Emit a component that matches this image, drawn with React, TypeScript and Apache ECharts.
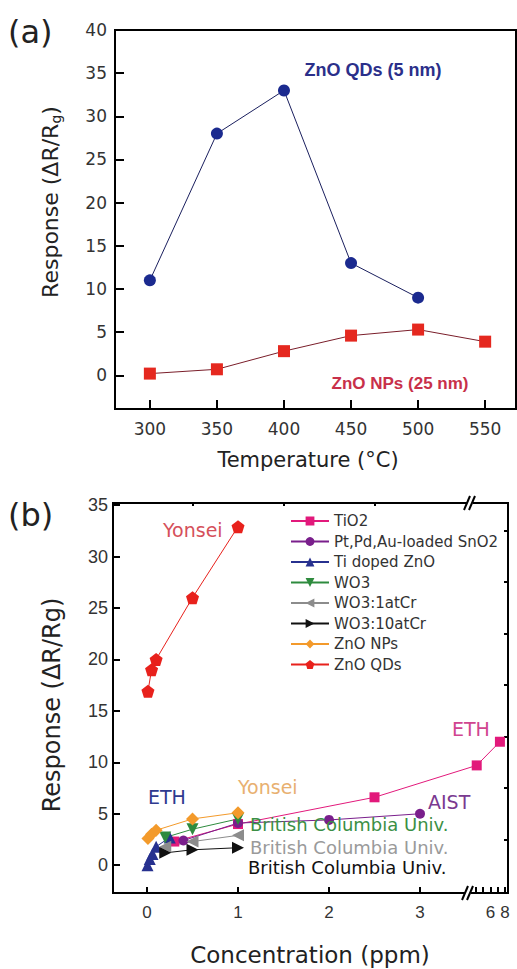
import React, { useEffect, useRef } from "react";
import * as echarts from "echarts";

// ---------- Panel (a) data ----------
const temperatures = [300, 350, 400, 450, 500, 550];
const qdTempResponse = [11, 28, 33, 13, 9];
const npTempResponse = [0.2, 0.7, 2.8, 4.6, 5.3, 3.9];
const aYTicks = [0, 5, 10, 15, 20, 25, 30, 35, 40];

// ---------- Panel (b) data ----------
const tio2Conc = [0.3, 1, 2.5, 4.1, 7.3];
const tio2Resp = [2.3, 4.0, 6.6, 9.7, 12.0];
const snO2Conc = [0.4, 1, 2, 3];
const snO2Resp = [2.4, 4.1, 4.4, 5.0];
const tiZnOConc = [0.005, 0.03, 0.06, 0.1, 0.25];
const tiZnOResp = [0, 0.6, 1.1, 1.8, 2.7];
const wo3Conc = [0.2, 0.5, 1];
const wo3Resp = [2.7, 3.5, 4.5];
const wo3Cr1Conc = [0.2, 0.5, 1];
const wo3Cr1Resp = [1.8, 2.3, 2.9];
const wo3Cr10Conc = [0.2, 0.5, 1];
const wo3Cr10Resp = [1.2, 1.5, 1.7];
const znoNPConc = [0.01, 0.05, 0.1, 0.5, 1];
const znoNPResp = [2.6, 3.0, 3.4, 4.5, 5.1];
const znoQDConc = [0.01, 0.05, 0.1, 0.5, 1];
const znoQDResp = [16.9, 19.0, 20.0, 26.0, 32.9];

const bXMajor = [0, 1, 2, 3];
const bXMinor = [0.5, 1.5, 2.5];
const bXBreakTicks = [4, 5, 6, 7, 8];
const bXBreakLabels = [6, 8];
const bYMajor = [0, 5, 10, 15, 20, 25, 30, 35];
const bYMinor = [2.5, 7.5, 12.5, 17.5, 22.5, 27.5, 32.5];

// broken axis mapping
const BREAK_END = 3.934;
const SEG = 0.0797;
const toPos = (v: number) => (v <= 3.5 ? v : BREAK_END - (8 - v) * SEG);
const fromPos = (p: number) => (p <= 3.55 ? p : 8 - (BREAK_END - p) / SEG);

const pentagon =
  "path://M0,-1 L0.951,-0.309 L0.588,0.809 L-0.588,0.809 L-0.951,-0.309 Z";

const FONT = "DejaVu Sans";
const SANS = "Liberation Sans";

export default function App() {
  const ref = useRef<HTMLDivElement>(null);
  useEffect(() => {
    if (!ref.current) return;
    const chart = echarts.init(ref.current, undefined, { renderer: "svg" });

    const mk = (xs: number[], ys: number[]) => xs.map((x, i) => [toPos(x), ys[i]]);

    const bSeries = [
      { name: "TiO2", xs: tio2Conc, ys: tio2Resp, color: "#e2197b", symbol: "rect", size: 10, rot: 0 },
      { name: "Pt,Pd,Au-loaded SnO2", xs: snO2Conc, ys: snO2Resp, color: "#7a1f8c", symbol: "circle", size: 10, rot: 0 },
      { name: "Ti doped ZnO", xs: tiZnOConc, ys: tiZnOResp, color: "#27318f", symbol: "triangle", size: 12, rot: 0 },
      { name: "WO3", xs: wo3Conc, ys: wo3Resp, color: "#2e8b3e", symbol: "triangle", size: 12, rot: 180 },
      { name: "WO3:1atCr", xs: wo3Cr1Conc, ys: wo3Cr1Resp, color: "#8c8c8c", symbol: "triangle", size: 12, rot: 90 },
      { name: "WO3:10atCr", xs: wo3Cr10Conc, ys: wo3Cr10Resp, color: "#111111", symbol: "triangle", size: 12, rot: -90 },
      { name: "ZnO NPs", xs: znoNPConc, ys: znoNPResp, color: "#f39a2b", symbol: "diamond", size: 13, rot: 0 },
      { name: "ZnO QDs", xs: znoQDConc, ys: znoQDResp, color: "#e8211c", symbol: pentagon, size: 13, rot: 0 },
    ];

    const txt = (
      text: string,
      x: number,
      y: number,
      fill: string,
      fontSize: number,
      extra: any = {}
    ) => ({
      type: "text",
      x,
      y,
      z: 100,
      style: {
        text,
        fill,
        fontSize,
        fontFamily: FONT,
        align: "left",
        verticalAlign: "middle",
        ...extra,
      },
    });

    const breakMark = (cx: number, cy: number) => [
      { type: "rect", z: 99, shape: { x: cx - 3, y: cy - 3, width: 6, height: 6 }, style: { fill: "#fff" } },
      { type: "line", z: 100, shape: { x1: cx - 6, y1: cy + 7, x2: cx, y2: cy - 7 }, style: { stroke: "#000", lineWidth: 2 } },
      { type: "line", z: 100, shape: { x1: cx - 1, y1: cy + 7, x2: cx + 5, y2: cy - 7 }, style: { stroke: "#000", lineWidth: 2 } },
    ];

    const axisLine = { show: true, onZero: false, lineStyle: { color: "#000", width: 2 } };
    const noLine = { show: false, onZero: false };

    const option: any = {
      animation: false,
      backgroundColor: "#fff",
      grid: [
        { left: 115, top: 30, width: 401, height: 379, show: true, borderColor: "#000", borderWidth: 2 },
        { left: 113, top: 503, width: 395, height: 390, show: true, borderColor: "#000", borderWidth: 2 },
      ],
      xAxis: [
        {
          type: "value",
          gridIndex: 0,
          min: 274,
          max: 573,
          axisLine,
          axisTick: { show: true, inside: true, length: 9, customValues: temperatures, lineStyle: { color: "#000", width: 2 } },
          axisLabel: { customValues: temperatures, margin: 11, fontSize: 17, fontFamily: FONT, color: "#333" },
          splitLine: { show: false },
        },
        {
          type: "value",
          gridIndex: 1,
          min: -0.374,
          max: 3.967,
          axisLine,
          axisTick: {
            show: true,
            inside: true,
            length: 6,
            customValues: [...bXMajor, ...bXBreakTicks.map(toPos)],
            lineStyle: { color: "#000", width: 2 },
          },
          axisLabel: {
            customValues: [...bXMajor, ...bXBreakLabels.map(toPos)],
            formatter: (v: number) => String(Math.round(fromPos(v))),
            margin: 11,
            fontSize: 17,
            fontFamily: SANS,
            color: "#333",
          },
          splitLine: { show: false },
        },
        {
          type: "value",
          gridIndex: 1,
          min: -0.374,
          max: 3.967,
          axisLine: noLine,
          axisTick: { show: true, inside: true, length: 3, customValues: bXMinor, lineStyle: { color: "#000", width: 2 } },
          axisLabel: { show: false },
          splitLine: { show: false },
        },
      ],
      yAxis: [
        {
          type: "value",
          gridIndex: 0,
          min: -3.9,
          max: 40,
          axisLine,
          axisTick: { show: true, inside: true, length: 9, customValues: aYTicks, lineStyle: { color: "#000", width: 2 } },
          axisLabel: { customValues: aYTicks, margin: 8, fontSize: 17, fontFamily: FONT, color: "#333" },
          splitLine: { show: false },
        },
        {
          type: "value",
          gridIndex: 1,
          min: -2.7,
          max: 35.2,
          axisLine,
          axisTick: { show: true, inside: true, length: 7, customValues: bYMajor, lineStyle: { color: "#000", width: 2 } },
          axisLabel: { customValues: bYMajor, margin: 5, fontSize: 18, fontFamily: SANS, color: "#333" },
          splitLine: { show: false },
        },
        {
          type: "value",
          gridIndex: 1,
          min: -2.7,
          max: 35.2,
          axisLine: noLine,
          axisTick: { show: true, inside: true, length: 4, customValues: bYMinor, lineStyle: { color: "#000", width: 2 } },
          axisLabel: { show: false },
          splitLine: { show: false },
        },
      ],
      legend: {
        data: bSeries.map((s) => s.name),
        orient: "vertical",
        left: 290,
        top: 513,
        itemWidth: 38,
        itemHeight: 11,
        itemGap: 4.5,
        padding: 0,
        textStyle: { fontSize: 15, fontFamily: FONT, color: "#333", lineHeight: 16 },
      },
      series: [
        {
          name: "ZnO QDs (5 nm)",
          type: "line",
          xAxisIndex: 0,
          yAxisIndex: 0,
          data: qdTempResponse.map((v, i) => [temperatures[i], v]),
          symbol: "circle",
          symbolSize: 12,
          itemStyle: { color: "#1b2a8f" },
          lineStyle: { color: "#1a1f5e", width: 1 },
        },
        {
          name: "ZnO NPs (25 nm)",
          type: "line",
          xAxisIndex: 0,
          yAxisIndex: 0,
          data: npTempResponse.map((v, i) => [temperatures[i], v]),
          symbol: "rect",
          symbolSize: 12,
          itemStyle: { color: "#e5281f" },
          lineStyle: { color: "#7a1e2a", width: 1 },
        },
        ...bSeries.map((s) => ({
          name: s.name,
          type: "line",
          xAxisIndex: 1,
          yAxisIndex: 1,
          data: mk(s.xs, s.ys),
          symbol: s.symbol,
          symbolSize: s.size,
          symbolRotate: s.rot,
          itemStyle: { color: s.color },
          lineStyle: { color: s.color, width: 1 },
        })),
      ],
      graphic: [
        txt("(a)", 8, 32, "#222", 32),
        txt("(b)", 8, 515, "#222", 32),
        {
          type: "text",
          x: 50,
          y: 202,
          rotation: Math.PI / 2,
          z: 100,
          style: {
            text: "Response (ΔR/R{s|g})",
            fill: "#222",
            fontSize: 22,
            fontFamily: FONT,
            align: "center",
            verticalAlign: "middle",
            rich: { s: { fontSize: 14, fontFamily: FONT, fill: "#222", padding: [12, 0, 0, 0] } },
          },
        },
        txt("Temperature (°C)", 308, 460, "#222", 21, { align: "center" }),
        {
          type: "text",
          x: 52,
          y: 705,
          rotation: Math.PI / 2,
          z: 100,
          style: {
            text: "Response (ΔR/Rg)",
            fill: "#222",
            fontSize: 24,
            fontFamily: FONT,
            align: "center",
            verticalAlign: "middle",
          },
        },
        txt("Concentration (ppm)", 310, 955, "#222", 23, { align: "center" }),
        txt("ZnO QDs (5 nm)", 373, 70, "#2b2f8a", 18, { align: "center", fontWeight: "bold", fontFamily: SANS }),
        txt("ZnO NPs (25 nm)", 400, 383, "#c8304a", 17, { align: "center", fontWeight: "bold", fontFamily: SANS }),
        txt("Yonsei", 163, 530, "#d5505a", 19),
        txt("ETH", 148, 797, "#2e3a8f", 19),
        txt("Yonsei", 238, 787, "#e8b070", 19),
        txt("British Columbia Univ.", 250, 824, "#3b8f45", 18),
        txt("British Columbia Univ.", 250, 847, "#9a9a9a", 18),
        txt("British Columbia Univ.", 248, 867, "#111111", 18),
        txt("AIST", 428, 802, "#7a3a90", 19),
        txt("ETH", 452, 729, "#d0458f", 19),
        ...breakMark(470, 503),
        ...breakMark(468, 893),
      ],
    };

    chart.setOption(option);
    return () => chart.dispose();
  }, []);

  return (
    <div
      ref={ref}
      style={{ position: "absolute", left: 0, top: 0, width: 517, height: 969, background: "#fff" }}
    />
  );
}
